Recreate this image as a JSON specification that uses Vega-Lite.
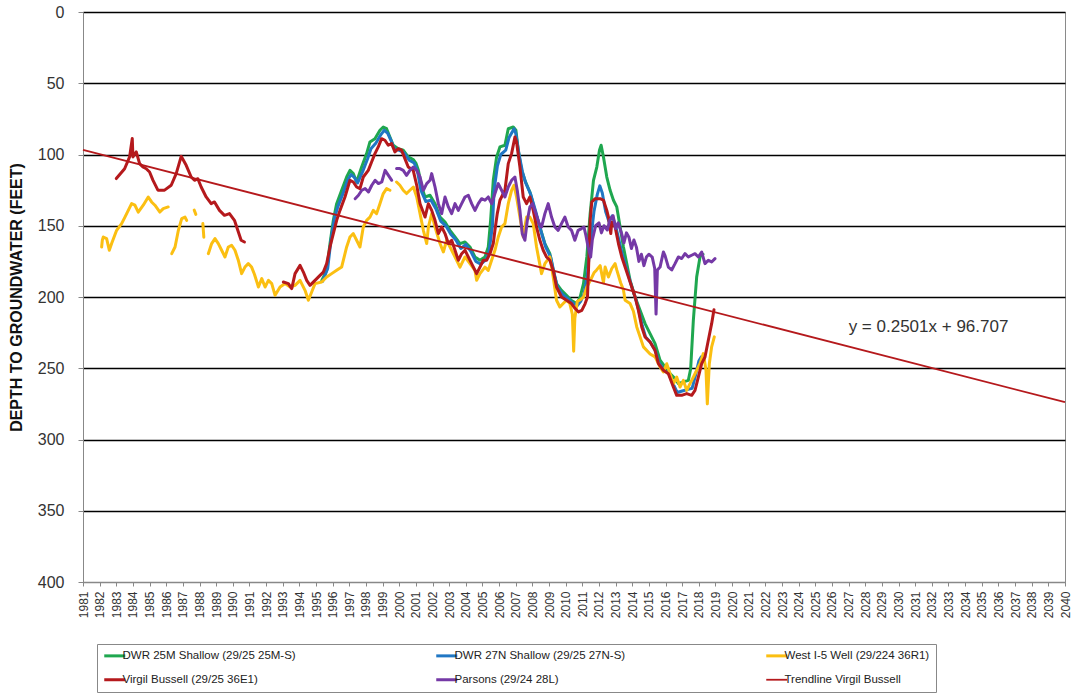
{
 "$schema": "https://vega.github.io/schema/vega-lite/v6.json",
 "width": 982, "height": 570,
 "autosize": {"type": "none"},
 "padding": {"left": 83, "top": 12, "right": 8, "bottom": 112},
 "background": "white",
 "config": {
  "font": "Liberation Sans",
  "view": {"stroke": "#8a8a8a", "strokeWidth": 1}
 },
 "encoding": {
  "x": {"field": "year", "type": "quantitative",
   "scale": {"domain": [1981, 2040], "nice": false, "zero": false},
   "axis": {"values": [1981,1982,1983,1984,1985,1986,1987,1988,1989,1990,1991,1992,1993,1994,1995,1996,1997,1998,1999,2000,2001,2002,2003,2004,2005,2006,2007,2008,2009,2010,2011,2012,2013,2014,2015,2016,2017,2018,2019,2020,2021,2022,2023,2024,2025,2026,2027,2028,2029,2030,2031,2032,2033,2034,2035,2036,2037,2038,2039,2040],
    "format": "d", "labelAngle": -90, "labelAlign": "right", "labelBaseline": "middle",
    "labelFontSize": 12, "labelColor": "#333", "labelPadding": 5, "tickSize": 4, "tickColor": "#888",
    "domainColor": "#888", "grid": false, "title": null, "labelOverlap": false, "labelBound": false, "labelFlush": false}},
  "y": {"field": "depth", "type": "quantitative",
   "scale": {"domain": [0, 400], "reverse": true, "nice": false, "zero": false},
   "axis": {"values": [0,50,100,150,200,250,300,350,400], "title": "DEPTH TO GROUNDWATER (FEET)",
    "titleFontSize": 16, "titleFontWeight": "bold", "titleColor": "#111", "titlePadding": 13,
    "labelFontSize": 16, "labelColor": "#333", "labelPadding": 14, "tickSize": 5, "tickColor": "#888",
    "domainColor": "#888", "grid": true,
    "gridColor": {"condition": {"test": "datum.value === 400", "value": "#888"}, "value": "#000"},
    "gridWidth": 1.6, "gridOpacity": 1}}
 },
 "layer": [
  {
   "data": {"values": [
    {"year":1995.35,"depth":188.3},{"year":1995.64,"depth":181.3},{"year":1995.84,"depth":162.5},{"year":1996.04,"depth":146.2},{"year":1996.24,"depth":134.5},{"year":1996.54,"depth":125.1},{"year":1996.84,"depth":115.8},{"year":1997.04,"depth":111.1},{"year":1997.24,"depth":113.4},{"year":1997.44,"depth":119.3},{"year":1997.74,"depth":108.8},{"year":1998.04,"depth":99.4},{"year":1998.24,"depth":91.2},{"year":1998.54,"depth":88.9},{"year":1998.84,"depth":83},{"year":1999.04,"depth":80.7},{"year":1999.24,"depth":81.9},{"year":1999.44,"depth":87.7},{"year":1999.64,"depth":93.5},{"year":1999.94,"depth":95.9},{"year":2000.24,"depth":97},{"year":2000.54,"depth":101.7},{"year":2000.84,"depth":103.5},{"year":2001.0,"depth":106},{"year":2001.15,"depth":111.1},{"year":2001.35,"depth":122.8},{"year":2001.55,"depth":129.8},{"year":2001.85,"depth":128.6},{"year":2002.15,"depth":134.5},{"year":2002.45,"depth":143.9},{"year":2002.75,"depth":147.4},{"year":2003.05,"depth":153.2},{"year":2003.35,"depth":157.9},{"year":2003.65,"depth":162.5},{"year":2003.95,"depth":161.4},{"year":2004.25,"depth":164.9},{"year":2004.55,"depth":171.9},{"year":2004.85,"depth":174.2},{"year":2005.15,"depth":171.9},{"year":2005.35,"depth":164.9},{"year":2005.49,"depth":146.2},{"year":2005.65,"depth":118.1},{"year":2005.85,"depth":101.7},{"year":2006.05,"depth":94.7},{"year":2006.35,"depth":93.5},{"year":2006.55,"depth":81.9},{"year":2006.85,"depth":80.7},{"year":2007.01,"depth":83},{"year":2007.15,"depth":97},{"year":2007.35,"depth":111.1},{"year":2007.55,"depth":118.1},{"year":2007.85,"depth":126.3},{"year":2008.15,"depth":139.2},{"year":2008.45,"depth":150.9},{"year":2008.75,"depth":162.5},{"year":2009.05,"depth":169.6},{"year":2009.25,"depth":181.3},{"year":2009.45,"depth":190.6},{"year":2009.75,"depth":195.3},{"year":2010.05,"depth":198.8},{"year":2010.35,"depth":202.5},{"year":2010.67,"depth":204.6},{"year":2010.87,"depth":200},{"year":2011.07,"depth":190.6},{"year":2011.27,"depth":171.9},{"year":2011.47,"depth":141.5},{"year":2011.67,"depth":118.1},{"year":2011.87,"depth":108.8},{"year":2012.03,"depth":97},{"year":2012.13,"depth":93.5},{"year":2012.27,"depth":101.7},{"year":2012.47,"depth":115.8},{"year":2012.67,"depth":125.1},{"year":2012.87,"depth":132.1},{"year":2013.07,"depth":136.8},{"year":2013.27,"depth":150.9},{"year":2013.47,"depth":164.9},{"year":2013.67,"depth":176.6},{"year":2013.87,"depth":188.3},{"year":2014.17,"depth":200},{"year":2014.47,"depth":209.4},{"year":2014.77,"depth":218.7},{"year":2015.07,"depth":225.7},{"year":2015.37,"depth":232.7},{"year":2015.67,"depth":244.4},{"year":2015.97,"depth":249.1},{"year":2016.27,"depth":253.8},{"year":2016.57,"depth":257.3},{"year":2016.77,"depth":260.8},{"year":2017.07,"depth":259.6},{"year":2017.37,"depth":258.5},{"year":2017.51,"depth":250.3},{"year":2017.67,"depth":216.4},{"year":2017.87,"depth":186},{"year":2018.07,"depth":171.9},{"year":2018.25,"depth":170}
   ]},
   "mark": {"type": "line", "strokeWidth": 3, "strokeJoin": "round", "strokeCap": "round"},
   "encoding": {
    "color": {"datum": "DWR 25M Shallow (29/25 25M-S)", "type": "nominal",
     "scale": {"domain": ["DWR 25M Shallow (29/25 25M-S)", "DWR 27N Shallow (29/25 27N-S)", "West I-5 Well (29/224 36R1)", "Virgil Bussell (29/25 36E1)", "Parsons (29/24 28L)", "Trendline Virgil Bussell"],
      "range": ["#1fa74f", "#2077c4", "#fbbf12", "#b5191c", "#7539a6", "#b5191c"]},
     "legend": {"orient": "none", "legendX": 14, "legendY": 632, "direction": "horizontal", "columns": 3,
      "columnPadding": 134, "rowPadding": 11, "padding": 6, "strokeColor": "#888", "fillColor": "white",
      "symbolType": "stroke", "symbolSize": 441, "symbolStrokeWidth": 3, "symbolOffset": 6,
      "labelFont": "Liberation Sans", "labelFontSize": 11.5, "labelColor": "#222", "labelOffset": 2, "labelLimit": 500, "title": null,
      "encode": {"symbols": {"update": {"strokeWidth": {"signal": "datum.value === 'Trendline Virgil Bussell' ? 1.8 : 3"}}}}}}
   }
  },
  {
   "data": {"values": [
    {"year":1995.4,"depth":189},{"year":1995.7,"depth":180},{"year":1995.9,"depth":160},{"year":1996.1,"depth":145},{"year":1996.3,"depth":137},{"year":1996.6,"depth":128},{"year":1996.9,"depth":118},{"year":1997.1,"depth":114},{"year":1997.3,"depth":116},{"year":1997.5,"depth":120},{"year":1997.8,"depth":112},{"year":1998.1,"depth":103},{"year":1998.3,"depth":96},{"year":1998.6,"depth":92},{"year":1998.9,"depth":86},{"year":1999.1,"depth":83},{"year":1999.3,"depth":85},{"year":1999.5,"depth":90},{"year":1999.7,"depth":96},{"year":2000.0,"depth":97},{"year":2000.3,"depth":99},{"year":2000.6,"depth":104},{"year":2000.9,"depth":106},{"year":2001.1,"depth":112},{"year":2001.3,"depth":125},{"year":2001.6,"depth":133},{"year":2001.9,"depth":132},{"year":2002.2,"depth":138},{"year":2002.5,"depth":147},{"year":2002.8,"depth":150},{"year":2003.1,"depth":156},{"year":2003.4,"depth":160},{"year":2003.7,"depth":166},{"year":2004.0,"depth":163},{"year":2004.3,"depth":168},{"year":2004.6,"depth":175},{"year":2004.9,"depth":177},{"year":2005.2,"depth":174},{"year":2005.4,"depth":168},{"year":2005.6,"depth":150},{"year":2005.7,"depth":125},{"year":2005.9,"depth":108},{"year":2006.1,"depth":100},{"year":2006.4,"depth":97},{"year":2006.6,"depth":88},{"year":2006.9,"depth":82},{"year":2007.0,"depth":85},{"year":2007.2,"depth":100},{"year":2007.4,"depth":112},{"year":2007.6,"depth":120},{"year":2007.9,"depth":128},{"year":2008.2,"depth":140},{"year":2008.5,"depth":153},{"year":2008.8,"depth":165},{"year":2009.1,"depth":172},{"year":2009.3,"depth":183},{"year":2009.5,"depth":193},{"year":2009.8,"depth":198},{"year":2010.1,"depth":201},{"year":2010.4,"depth":204},{"year":2010.7,"depth":206},{"year":2010.9,"depth":203},{"year":2011.1,"depth":198},{"year":2011.3,"depth":185},{"year":2011.5,"depth":160},{"year":2011.7,"depth":140},{"year":2011.9,"depth":128},{"year":2012.05,"depth":122},{"year":2012.2,"depth":127},{"year":2012.4,"depth":140},{"year":2012.6,"depth":147},{"year":2012.8,"depth":143},{"year":2013.0,"depth":150},{"year":2013.2,"depth":160},{"year":2013.4,"depth":170},{"year":2013.6,"depth":178},{"year":2013.8,"depth":186},{"year":2014.0,"depth":194},{"year":2014.2,"depth":201},{"year":2014.4,"depth":210},{"year":2014.6,"depth":220},{"year":2014.8,"depth":228},{"year":2015.1,"depth":232},{"year":2015.4,"depth":238},{"year":2015.6,"depth":246},{"year":2015.9,"depth":251},{"year":2016.2,"depth":254},{"year":2016.5,"depth":262},{"year":2016.7,"depth":267},{"year":2017.0,"depth":266},{"year":2017.3,"depth":265},{"year":2017.6,"depth":264},{"year":2017.8,"depth":255},{"year":2018.0,"depth":245},{"year":2018.15,"depth":242}
   ]},
   "mark": {"type": "line", "strokeWidth": 3, "strokeJoin": "round", "strokeCap": "round"},
   "encoding": {"color": {"datum": "DWR 27N Shallow (29/25 27N-S)", "type": "nominal"}}
  },
  {
   "data": {"values": [
    {"seg":1,"year":1982.12,"depth":164.9},{"seg":1,"year":1982.16,"depth":160.2},{"seg":1,"year":1982.22,"depth":157.9},{"seg":1,"year":1982.42,"depth":159},{"seg":1,"year":1982.58,"depth":167.2},{"seg":1,"year":1982.72,"depth":162.5},{"seg":1,"year":1983.02,"depth":153.2},{"seg":1,"year":1983.32,"depth":148.5},{"seg":1,"year":1983.52,"depth":143.9},{"seg":1,"year":1983.72,"depth":139.2},{"seg":1,"year":1983.92,"depth":134.5},{"seg":1,"year":1984.12,"depth":135.6},{"seg":1,"year":1984.32,"depth":140.4},{"seg":1,"year":1984.62,"depth":135.6},{"seg":1,"year":1984.92,"depth":129.8},{"seg":1,"year":1985.12,"depth":133.3},{"seg":1,"year":1985.32,"depth":135.6},{"seg":1,"year":1985.62,"depth":140.4},{"seg":1,"year":1985.82,"depth":138},{"seg":1,"year":1986.12,"depth":136.8},
    {"seg":2,"year":1986.33,"depth":169.6},{"seg":2,"year":1986.53,"depth":164.9},{"seg":2,"year":1986.73,"depth":153.2},{"seg":2,"year":1986.93,"depth":145},{"seg":2,"year":1987.13,"depth":143.9},{"seg":2,"year":1987.23,"depth":146.2},
    {"seg":3,"year":1987.68,"depth":139},{"seg":3,"year":1987.78,"depth":142},
    {"seg":4,"year":1988.2,"depth":148.5},{"seg":4,"year":1988.26,"depth":158},
    {"seg":5,"year":1988.53,"depth":169.6},{"seg":5,"year":1988.73,"depth":162.5},{"seg":5,"year":1988.93,"depth":159},{"seg":5,"year":1989.13,"depth":162.5},{"seg":5,"year":1989.33,"depth":167.2},{"seg":5,"year":1989.53,"depth":171.9},{"seg":5,"year":1989.73,"depth":164.9},{"seg":5,"year":1989.93,"depth":163.7},{"seg":5,"year":1990.13,"depth":167.2},{"seg":5,"year":1990.33,"depth":174.2},{"seg":5,"year":1990.53,"depth":183.6},{"seg":5,"year":1990.73,"depth":179},{"seg":5,"year":1990.93,"depth":176.6},{"seg":5,"year":1991.13,"depth":179},{"seg":5,"year":1991.3,"depth":184},{"seg":5,"year":1991.54,"depth":193},{"seg":5,"year":1991.74,"depth":187.1},{"seg":5,"year":1991.94,"depth":193},{"seg":5,"year":1992.14,"depth":188.3},{"seg":5,"year":1992.34,"depth":190.6},{"seg":5,"year":1992.54,"depth":198.8},{"seg":5,"year":1992.84,"depth":193},{"seg":5,"year":1993.14,"depth":190.6},{"seg":5,"year":1993.44,"depth":193},{"seg":5,"year":1993.74,"depth":191.8},{"seg":5,"year":1994.04,"depth":188.3},{"seg":5,"year":1994.34,"depth":195.3},{"seg":5,"year":1994.54,"depth":202.3},{"seg":5,"year":1994.74,"depth":196.5},{"seg":5,"year":1994.94,"depth":190.6},{"seg":5,"year":1995.34,"depth":189.5},{"seg":5,"year":1995.64,"depth":186},{"seg":5,"year":1995.94,"depth":183.6},{"seg":5,"year":1996.24,"depth":181.3},{"seg":5,"year":1996.54,"depth":179},{"seg":5,"year":1996.84,"depth":164.9},{"seg":5,"year":1997.04,"depth":157.9},{"seg":5,"year":1997.24,"depth":155.5},{"seg":5,"year":1997.44,"depth":160.2},{"seg":5,"year":1997.64,"depth":164.9},{"seg":5,"year":1997.84,"depth":150.9},{"seg":5,"year":1998.04,"depth":146.2},{"seg":5,"year":1998.24,"depth":143.9},{"seg":5,"year":1998.44,"depth":139.2},{"seg":5,"year":1998.64,"depth":141.5},{"seg":5,"year":1998.84,"depth":134.5},{"seg":5,"year":1999.04,"depth":127.4},{"seg":5,"year":1999.24,"depth":123.9},{"seg":5,"year":1999.44,"depth":125.1},
    {"seg":6,"year":1999.84,"depth":119.3},{"seg":6,"year":2000.04,"depth":121.6},{"seg":6,"year":2000.24,"depth":125.1},{"seg":6,"year":2000.44,"depth":127.4},{"seg":6,"year":2000.64,"depth":125.1},{"seg":6,"year":2000.85,"depth":122.8},{"seg":6,"year":2001.05,"depth":129.8},{"seg":6,"year":2001.25,"depth":141.5},{"seg":6,"year":2001.45,"depth":153.2},{"seg":6,"year":2001.65,"depth":162.5},{"seg":6,"year":2001.75,"depth":150.9},{"seg":6,"year":2001.95,"depth":141.5},{"seg":6,"year":2002.15,"depth":150.9},{"seg":6,"year":2002.45,"depth":162.5},{"seg":6,"year":2002.65,"depth":168.4},{"seg":6,"year":2002.85,"depth":160.2},{"seg":6,"year":2003.15,"depth":167.2},{"seg":6,"year":2003.45,"depth":174.2},{"seg":6,"year":2003.65,"depth":179},{"seg":6,"year":2003.95,"depth":171.9},{"seg":6,"year":2004.25,"depth":176.6},{"seg":6,"year":2004.55,"depth":181.3},{"seg":6,"year":2004.65,"depth":188.3},{"seg":6,"year":2004.85,"depth":183.6},{"seg":6,"year":2005.15,"depth":179},{"seg":6,"year":2005.35,"depth":181.3},{"seg":6,"year":2005.55,"depth":174.2},{"seg":6,"year":2005.75,"depth":167.2},{"seg":6,"year":2005.95,"depth":157.9},{"seg":6,"year":2006.15,"depth":150.9},{"seg":6,"year":2006.35,"depth":148.5},{"seg":6,"year":2006.55,"depth":134.5},{"seg":6,"year":2006.75,"depth":125.1},{"seg":6,"year":2006.89,"depth":121.6},{"seg":6,"year":2007.05,"depth":129.8},{"seg":6,"year":2007.25,"depth":143.9},{"seg":6,"year":2007.45,"depth":157.9},{"seg":6,"year":2007.65,"depth":143.9},{"seg":6,"year":2007.85,"depth":143.9},{"seg":6,"year":2008.05,"depth":148.5},{"seg":6,"year":2008.25,"depth":164.9},{"seg":6,"year":2008.55,"depth":183.6},{"seg":6,"year":2008.75,"depth":176.6},{"seg":6,"year":2009.05,"depth":171.9},{"seg":6,"year":2009.25,"depth":186},{"seg":6,"year":2009.45,"depth":202.3},{"seg":6,"year":2009.65,"depth":207},{"seg":6,"year":2009.85,"depth":204.6},{"seg":6,"year":2010.05,"depth":202.3},{"seg":6,"year":2010.25,"depth":204.6},{"seg":6,"year":2010.4,"depth":212},{"seg":6,"year":2010.48,"depth":238},{"seg":6,"year":2010.55,"depth":215},{"seg":6,"year":2010.7,"depth":203},{"seg":6,"year":2010.87,"depth":202},{"seg":6,"year":2011.07,"depth":200},{"seg":6,"year":2011.27,"depth":193},{"seg":6,"year":2011.5,"depth":188},{"seg":6,"year":2011.7,"depth":183},{"seg":6,"year":2011.86,"depth":181},{"seg":6,"year":2012.07,"depth":178},{"seg":6,"year":2012.27,"depth":190},{"seg":6,"year":2012.37,"depth":179},{"seg":6,"year":2012.57,"depth":186},{"seg":6,"year":2012.77,"depth":180},{"seg":6,"year":2012.97,"depth":176.6},{"seg":6,"year":2013.07,"depth":181},{"seg":6,"year":2013.3,"depth":190},{"seg":6,"year":2013.47,"depth":195},{"seg":6,"year":2013.57,"depth":202.3},{"seg":6,"year":2013.87,"depth":204.6},{"seg":6,"year":2014.07,"depth":210},{"seg":6,"year":2014.27,"depth":221},{"seg":6,"year":2014.47,"depth":228},{"seg":6,"year":2014.67,"depth":235},{"seg":6,"year":2015.07,"depth":240},{"seg":6,"year":2015.37,"depth":242},{"seg":6,"year":2015.67,"depth":249},{"seg":6,"year":2015.87,"depth":252.6},{"seg":6,"year":2016.07,"depth":246.8},{"seg":6,"year":2016.27,"depth":253.8},{"seg":6,"year":2016.47,"depth":261},{"seg":6,"year":2016.67,"depth":256.2},{"seg":6,"year":2016.87,"depth":263.2},{"seg":6,"year":2017.07,"depth":258.5},{"seg":6,"year":2017.27,"depth":265.5},{"seg":6,"year":2017.47,"depth":260.8},{"seg":6,"year":2017.67,"depth":256.2},{"seg":6,"year":2017.87,"depth":251.4},{"seg":6,"year":2018.07,"depth":246.8},{"seg":6,"year":2018.27,"depth":239.7},{"seg":6,"year":2018.43,"depth":251.4},{"seg":6,"year":2018.51,"depth":275},{"seg":6,"year":2018.63,"depth":246.8},{"seg":6,"year":2018.77,"depth":235},{"seg":6,"year":2018.93,"depth":228}
   ]},
   "mark": {"type": "line", "strokeWidth": 3, "strokeJoin": "round", "strokeCap": "round"},
   "encoding": {"color": {"datum": "West I-5 Well (29/224 36R1)", "type": "nominal"}, "detail": {"field": "seg", "type": "nominal"}}
  },
  {
   "data": {"values": [
    {"seg":1,"year":1983.0,"depth":116.9},{"seg":1,"year":1983.5,"depth":110},{"seg":1,"year":1983.8,"depth":101.7},{"seg":1,"year":1983.96,"depth":88.8},{"seg":1,"year":1984.0,"depth":101.7},{"seg":1,"year":1984.2,"depth":98.2},{"seg":1,"year":1984.4,"depth":106.4},{"seg":1,"year":1984.6,"depth":108.8},{"seg":1,"year":1984.8,"depth":110},{"seg":1,"year":1985.0,"depth":112.3},{"seg":1,"year":1985.2,"depth":118},{"seg":1,"year":1985.5,"depth":125},{"seg":1,"year":1985.9,"depth":125},{"seg":1,"year":1986.3,"depth":121.6},{"seg":1,"year":1986.6,"depth":113.4},{"seg":1,"year":1986.9,"depth":101.3},{"seg":1,"year":1987.2,"depth":107.6},{"seg":1,"year":1987.5,"depth":115.8},{"seg":1,"year":1987.7,"depth":118.1},{"seg":1,"year":1987.9,"depth":117},{"seg":1,"year":1988.1,"depth":122.8},{"seg":1,"year":1988.4,"depth":129.8},{"seg":1,"year":1988.7,"depth":134.5},{"seg":1,"year":1988.9,"depth":133.3},{"seg":1,"year":1989.2,"depth":139.2},{"seg":1,"year":1989.5,"depth":142.7},{"seg":1,"year":1989.8,"depth":141.5},{"seg":1,"year":1990.1,"depth":146.2},{"seg":1,"year":1990.3,"depth":153.2},{"seg":1,"year":1990.5,"depth":160.2},{"seg":1,"year":1990.7,"depth":161.4},
    {"seg":2,"year":1993.04,"depth":189.5},{"seg":2,"year":1993.34,"depth":190.6},{"seg":2,"year":1993.54,"depth":194.1},{"seg":2,"year":1993.74,"depth":183.6},{"seg":2,"year":1994.04,"depth":177.8},{"seg":2,"year":1994.24,"depth":182.5},{"seg":2,"year":1994.44,"depth":188.3},{"seg":2,"year":1994.64,"depth":191.8},{"seg":2,"year":1994.94,"depth":188.3},{"seg":2,"year":1995.24,"depth":184.8},{"seg":2,"year":1995.44,"depth":182.5},{"seg":2,"year":1995.64,"depth":176.6},{"seg":2,"year":1995.84,"depth":164.9},{"seg":2,"year":1996.04,"depth":155.5},{"seg":2,"year":1996.24,"depth":146.2},{"seg":2,"year":1996.44,"depth":139.2},{"seg":2,"year":1996.74,"depth":129.8},{"seg":2,"year":1997.04,"depth":118.1},{"seg":2,"year":1997.24,"depth":119.3},{"seg":2,"year":1997.44,"depth":122.8},{"seg":2,"year":1997.64,"depth":124},{"seg":2,"year":1997.84,"depth":115.8},{"seg":2,"year":1998.14,"depth":111.1},{"seg":2,"year":1998.34,"depth":105.3},{"seg":2,"year":1998.54,"depth":99.4},{"seg":2,"year":1998.74,"depth":94.7},{"seg":2,"year":1998.94,"depth":88.9},{"seg":2,"year":1999.14,"depth":90},{"seg":2,"year":1999.34,"depth":93.5},{"seg":2,"year":1999.54,"depth":92.4},{"seg":2,"year":1999.74,"depth":98.2},{"seg":2,"year":1999.94,"depth":95.9},{"seg":2,"year":2000.14,"depth":97},{"seg":2,"year":2000.34,"depth":102.9},{"seg":2,"year":2000.54,"depth":108.8},{"seg":2,"year":2000.84,"depth":111.1},{"seg":2,"year":2001.05,"depth":121.6},{"seg":2,"year":2001.25,"depth":134.5},{"seg":2,"year":2001.55,"depth":143.9},{"seg":2,"year":2001.75,"depth":134.5},{"seg":2,"year":2001.95,"depth":139.2},{"seg":2,"year":2002.15,"depth":146.2},{"seg":2,"year":2002.35,"depth":155.5},{"seg":2,"year":2002.55,"depth":150.9},{"seg":2,"year":2002.75,"depth":155.5},{"seg":2,"year":2002.95,"depth":162.5},{"seg":2,"year":2003.15,"depth":160.2},{"seg":2,"year":2003.35,"depth":167.2},{"seg":2,"year":2003.55,"depth":174.2},{"seg":2,"year":2003.75,"depth":169.6},{"seg":2,"year":2003.95,"depth":167.2},{"seg":2,"year":2004.15,"depth":171.9},{"seg":2,"year":2004.35,"depth":176.6},{"seg":2,"year":2004.65,"depth":183.6},{"seg":2,"year":2004.85,"depth":179},{"seg":2,"year":2005.05,"depth":174.2},{"seg":2,"year":2005.25,"depth":174.2},{"seg":2,"year":2005.45,"depth":169.6},{"seg":2,"year":2005.65,"depth":162.5},{"seg":2,"year":2005.75,"depth":153.2},{"seg":2,"year":2005.89,"depth":141.5},{"seg":2,"year":2006.05,"depth":132.1},{"seg":2,"year":2006.35,"depth":125.1},{"seg":2,"year":2006.55,"depth":106.4},{"seg":2,"year":2006.75,"depth":99.4},{"seg":2,"year":2006.95,"depth":87.7},{"seg":2,"year":2007.05,"depth":91.2},{"seg":2,"year":2007.25,"depth":108.8},{"seg":2,"year":2007.45,"depth":129.8},{"seg":2,"year":2007.65,"depth":134.5},{"seg":2,"year":2007.85,"depth":129.8},{"seg":2,"year":2008.05,"depth":139.2},{"seg":2,"year":2008.25,"depth":150.9},{"seg":2,"year":2008.45,"depth":160.2},{"seg":2,"year":2008.65,"depth":167.2},{"seg":2,"year":2008.85,"depth":171.9},{"seg":2,"year":2009.05,"depth":174.2},{"seg":2,"year":2009.25,"depth":181.3},{"seg":2,"year":2009.45,"depth":193},{"seg":2,"year":2009.75,"depth":200},{"seg":2,"year":2010.05,"depth":202.3},{"seg":2,"year":2010.35,"depth":204.6},{"seg":2,"year":2010.57,"depth":208.1},{"seg":2,"year":2010.77,"depth":210.5},{"seg":2,"year":2010.97,"depth":209.4},{"seg":2,"year":2011.17,"depth":204.6},{"seg":2,"year":2011.31,"depth":200},{"seg":2,"year":2011.37,"depth":181.3},{"seg":2,"year":2011.47,"depth":146.2},{"seg":2,"year":2011.57,"depth":133.3},{"seg":2,"year":2011.77,"depth":131},{"seg":2,"year":2012.07,"depth":131},{"seg":2,"year":2012.27,"depth":132.1},{"seg":2,"year":2012.47,"depth":139.2},{"seg":2,"year":2012.57,"depth":143.9},{"seg":2,"year":2012.71,"depth":155.5},{"seg":2,"year":2012.77,"depth":147.4},{"seg":2,"year":2012.97,"depth":150.9},{"seg":2,"year":2013.17,"depth":162.5},{"seg":2,"year":2013.37,"depth":171.9},{"seg":2,"year":2013.57,"depth":179},{"seg":2,"year":2013.77,"depth":186},{"seg":2,"year":2013.97,"depth":193},{"seg":2,"year":2014.17,"depth":200},{"seg":2,"year":2014.37,"depth":209.4},{"seg":2,"year":2014.57,"depth":221.1},{"seg":2,"year":2014.77,"depth":228.1},{"seg":2,"year":2015.07,"depth":231.6},{"seg":2,"year":2015.37,"depth":237.4},{"seg":2,"year":2015.57,"depth":246.8},{"seg":2,"year":2015.87,"depth":251.4},{"seg":2,"year":2016.17,"depth":253.8},{"seg":2,"year":2016.47,"depth":263.2},{"seg":2,"year":2016.67,"depth":269},{"seg":2,"year":2016.97,"depth":269},{"seg":2,"year":2017.27,"depth":267.8},{"seg":2,"year":2017.57,"depth":269},{"seg":2,"year":2017.77,"depth":265.5},{"seg":2,"year":2017.97,"depth":256.2},{"seg":2,"year":2018.17,"depth":246.8},{"seg":2,"year":2018.37,"depth":242.1},{"seg":2,"year":2018.57,"depth":230.4},{"seg":2,"year":2018.77,"depth":218.7},{"seg":2,"year":2018.91,"depth":208.9}
   ]},
   "mark": {"type": "line", "strokeWidth": 3, "strokeJoin": "round", "strokeCap": "round"},
   "encoding": {"color": {"datum": "Virgil Bussell (29/25 36E1)", "type": "nominal"}, "detail": {"field": "seg", "type": "nominal"}}
  },
  {
   "data": {"values": [
    {"seg":1,"year":1997.35,"depth":131},{"seg":1,"year":1997.55,"depth":128.6},{"seg":1,"year":1997.75,"depth":125.1},{"seg":1,"year":1997.95,"depth":123.9},{"seg":1,"year":1998.15,"depth":126.3},{"seg":1,"year":1998.35,"depth":121.6},{"seg":1,"year":1998.55,"depth":118.1},{"seg":1,"year":1998.75,"depth":120.4},{"seg":1,"year":1998.95,"depth":119.3},{"seg":1,"year":1999.15,"depth":111.1},{"seg":1,"year":1999.35,"depth":114.6},{"seg":1,"year":1999.55,"depth":118.1},
    {"seg":2,"year":1999.84,"depth":109.9},{"seg":2,"year":2000.04,"depth":109.9},{"seg":2,"year":2000.24,"depth":111.1},{"seg":2,"year":2000.44,"depth":114.6},{"seg":2,"year":2000.64,"depth":111.1},{"seg":2,"year":2000.84,"depth":108.8},{"seg":2,"year":2001.05,"depth":111.1},{"seg":2,"year":2001.25,"depth":115.8},{"seg":2,"year":2001.45,"depth":125.1},{"seg":2,"year":2001.65,"depth":120.4},{"seg":2,"year":2001.85,"depth":118.1},{"seg":2,"year":2001.95,"depth":113.4},{"seg":2,"year":2002.15,"depth":122.8},{"seg":2,"year":2002.35,"depth":134.5},{"seg":2,"year":2002.55,"depth":141.5},{"seg":2,"year":2002.75,"depth":129.8},{"seg":2,"year":2002.95,"depth":136.8},{"seg":2,"year":2003.15,"depth":141.5},{"seg":2,"year":2003.35,"depth":134.5},{"seg":2,"year":2003.55,"depth":139.2},{"seg":2,"year":2003.75,"depth":134.5},{"seg":2,"year":2003.95,"depth":129.8},{"seg":2,"year":2004.15,"depth":128.6},{"seg":2,"year":2004.35,"depth":134.5},{"seg":2,"year":2004.55,"depth":139.2},{"seg":2,"year":2004.75,"depth":134.5},{"seg":2,"year":2004.95,"depth":131},{"seg":2,"year":2005.15,"depth":132.1},{"seg":2,"year":2005.35,"depth":129.8},{"seg":2,"year":2005.55,"depth":134.5},{"seg":2,"year":2005.75,"depth":127.4},{"seg":2,"year":2005.95,"depth":120.4},{"seg":2,"year":2006.15,"depth":125.1},{"seg":2,"year":2006.35,"depth":129.8},{"seg":2,"year":2006.55,"depth":122.8},{"seg":2,"year":2006.75,"depth":118.1},{"seg":2,"year":2006.95,"depth":115.8},{"seg":2,"year":2007.09,"depth":125.1},{"seg":2,"year":2007.25,"depth":139.2},{"seg":2,"year":2007.39,"depth":155.5},{"seg":2,"year":2007.55,"depth":160.2},{"seg":2,"year":2007.69,"depth":146.7},{"seg":2,"year":2007.85,"depth":136.8},{"seg":2,"year":2008.01,"depth":134.5},{"seg":2,"year":2008.21,"depth":141.5},{"seg":2,"year":2008.41,"depth":148.5},{"seg":2,"year":2008.55,"depth":150.9},{"seg":2,"year":2008.75,"depth":141.5},{"seg":2,"year":2008.95,"depth":134.5},{"seg":2,"year":2009.15,"depth":143.9},{"seg":2,"year":2009.35,"depth":150.9},{"seg":2,"year":2009.55,"depth":153.2},{"seg":2,"year":2009.75,"depth":148.5},{"seg":2,"year":2009.95,"depth":143.9},{"seg":2,"year":2010.15,"depth":150.9},{"seg":2,"year":2010.35,"depth":153.2},{"seg":2,"year":2010.55,"depth":160.2},{"seg":2,"year":2010.75,"depth":153.2},{"seg":2,"year":2010.95,"depth":152},{"seg":2,"year":2011.1,"depth":150.9},{"seg":2,"year":2011.2,"depth":156},{"seg":2,"year":2011.35,"depth":165},{"seg":2,"year":2011.5,"depth":172},{"seg":2,"year":2011.6,"depth":160},{"seg":2,"year":2011.8,"depth":150},{"seg":2,"year":2012.0,"depth":148},{"seg":2,"year":2012.15,"depth":155},{"seg":2,"year":2012.3,"depth":150},{"seg":2,"year":2012.5,"depth":153},{"seg":2,"year":2012.65,"depth":146},{"seg":2,"year":2012.85,"depth":143},{"seg":2,"year":2013.0,"depth":152},{"seg":2,"year":2013.15,"depth":148},{"seg":2,"year":2013.35,"depth":155},{"seg":2,"year":2013.5,"depth":162},{"seg":2,"year":2013.65,"depth":155},{"seg":2,"year":2013.8,"depth":158},{"seg":2,"year":2013.95,"depth":166},{"seg":2,"year":2014.1,"depth":160},{"seg":2,"year":2014.25,"depth":165},{"seg":2,"year":2014.4,"depth":175},{"seg":2,"year":2014.55,"depth":170},{"seg":2,"year":2014.7,"depth":178},{"seg":2,"year":2014.85,"depth":172},{"seg":2,"year":2015.0,"depth":170},{"seg":2,"year":2015.2,"depth":172},{"seg":2,"year":2015.35,"depth":180},{"seg":2,"year":2015.43,"depth":212},{"seg":2,"year":2015.51,"depth":181},{"seg":2,"year":2015.67,"depth":179},{"seg":2,"year":2015.87,"depth":168.4},{"seg":2,"year":2015.97,"depth":171},{"seg":2,"year":2016.17,"depth":179},{"seg":2,"year":2016.37,"depth":181},{"seg":2,"year":2016.57,"depth":176.6},{"seg":2,"year":2016.77,"depth":171.9},{"seg":2,"year":2016.97,"depth":173},{"seg":2,"year":2017.17,"depth":169.6},{"seg":2,"year":2017.37,"depth":171.9},{"seg":2,"year":2017.57,"depth":170.7},{"seg":2,"year":2017.77,"depth":169.6},{"seg":2,"year":2017.97,"depth":171.9},{"seg":2,"year":2018.17,"depth":168.4},{"seg":2,"year":2018.37,"depth":176.6},{"seg":2,"year":2018.57,"depth":174.2},{"seg":2,"year":2018.77,"depth":175.4},{"seg":2,"year":2018.97,"depth":173.1}
   ]},
   "mark": {"type": "line", "strokeWidth": 3, "strokeJoin": "round", "strokeCap": "round"},
   "encoding": {"color": {"datum": "Parsons (29/24 28L)", "type": "nominal"}, "detail": {"field": "seg", "type": "nominal"}}
  },
  {
   "data": {"values": [{"year": 1981, "depth": 96.7}, {"year": 2040, "depth": 273.8}]},
   "mark": {"type": "line", "strokeWidth": 1.8},
   "encoding": {"color": {"datum": "Trendline Virgil Bussell", "type": "nominal"}}
  },
  {
   "data": {"values": [{"year": 2031.8, "depth": 221.3, "label": "y = 0.2501x + 96.707"}]},
   "mark": {"type": "text", "fontSize": 17, "color": "#333", "align": "center", "baseline": "middle"},
   "encoding": {"text": {"field": "label", "type": "nominal"}}
  }
 ]
}
